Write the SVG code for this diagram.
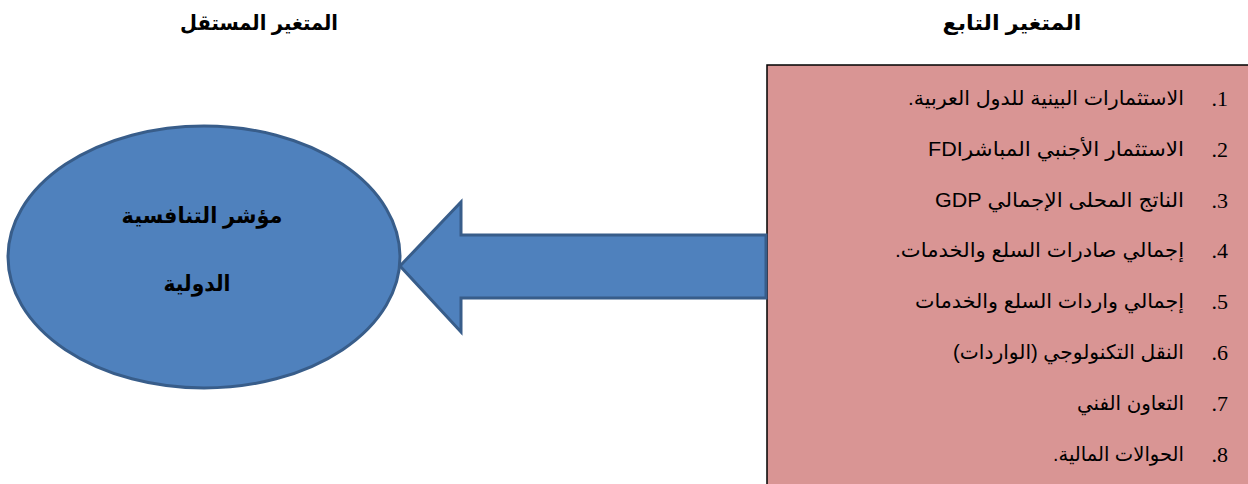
<svg xmlns="http://www.w3.org/2000/svg" width="1248" height="484" viewBox="0 0 1248 484">
<style>
.title{font-family:"Liberation Sans","DejaVu Sans",sans-serif;font-weight:bold;font-size:21px;fill:#000}
.node-text{font-family:"Liberation Sans","DejaVu Sans",sans-serif;font-weight:bold;font-size:22px;fill:#000}
.item{font-family:"Liberation Sans","DejaVu Sans",sans-serif;font-size:20px;fill:#000}
.num{font-family:"Liberation Serif",serif;font-size:22px;fill:#000}
.blue{fill:#4f81bd;stroke:#385d8a;stroke-width:3}
</style>
<rect width="1248" height="484" fill="#fff"/>
<text class="title" x="1012" y="30" text-anchor="middle" direction="rtl" textLength="139" lengthAdjust="spacingAndGlyphs">المتغير التابع</text>
<text class="title" x="259" y="30" text-anchor="middle" direction="rtl" textLength="158" lengthAdjust="spacingAndGlyphs">المتغير المستقل</text>

<g id="dependent">
<rect x="767" y="65" width="500" height="440" fill="#d99594" stroke="#000" stroke-width="1.5"/>
<g class="num" text-anchor="end">
<text x="1228" y="106">&#x200F;1.&#x200F;</text>
<text x="1228" y="157">&#x200F;2.&#x200F;</text>
<text x="1228" y="208">&#x200F;3.&#x200F;</text>
<text x="1228" y="258">&#x200F;4.&#x200F;</text>
<text x="1228" y="309">&#x200F;5.&#x200F;</text>
<text x="1228" y="360">&#x200F;6.&#x200F;</text>
<text x="1228" y="411">&#x200F;7.&#x200F;</text>
<text x="1228" y="462">&#x200F;8.&#x200F;</text>
</g>
<g class="item" direction="rtl" text-anchor="start">
<text x="1184" y="105" textLength="276" lengthAdjust="spacingAndGlyphs">الاستثمارات البينية للدول العربية.</text>
<text x="1184" y="156" textLength="256" lengthAdjust="spacingAndGlyphs">الاستثمار الأجنبي المباشرFDI</text>
<text x="1184" y="207" textLength="249" lengthAdjust="spacingAndGlyphs">الناتج المحلى الإجمالي GDP</text>
<text x="1184" y="257" textLength="289" lengthAdjust="spacingAndGlyphs">إجمالي صادرات السلع والخدمات.</text>
<text x="1184" y="308" textLength="269" lengthAdjust="spacingAndGlyphs">إجمالي واردات السلع والخدمات</text>
<text x="1184" y="359" textLength="231" lengthAdjust="spacingAndGlyphs">النقل التكنولوجي (الواردات)</text>
<text x="1184" y="410" textLength="107" lengthAdjust="spacingAndGlyphs">التعاون الفني</text>
<text x="1184" y="461" textLength="131" lengthAdjust="spacingAndGlyphs">الحوالات المالية.</text>
</g>
</g>

<g id="connectors">
<polygon class="blue" points="400,266 461,202 461,235 766,235 766,298 461,298 461,332"/>
</g>

<g id="independent">
<ellipse class="blue" cx="204" cy="257" rx="196" ry="131"/>
<text class="node-text" x="202" y="223" text-anchor="middle" direction="rtl" textLength="161" lengthAdjust="spacingAndGlyphs">مؤشر التنافسية</text>
<text class="node-text" x="197" y="291" text-anchor="middle" direction="rtl" textLength="67" lengthAdjust="spacingAndGlyphs">الدولية</text>
</g>
</svg>
